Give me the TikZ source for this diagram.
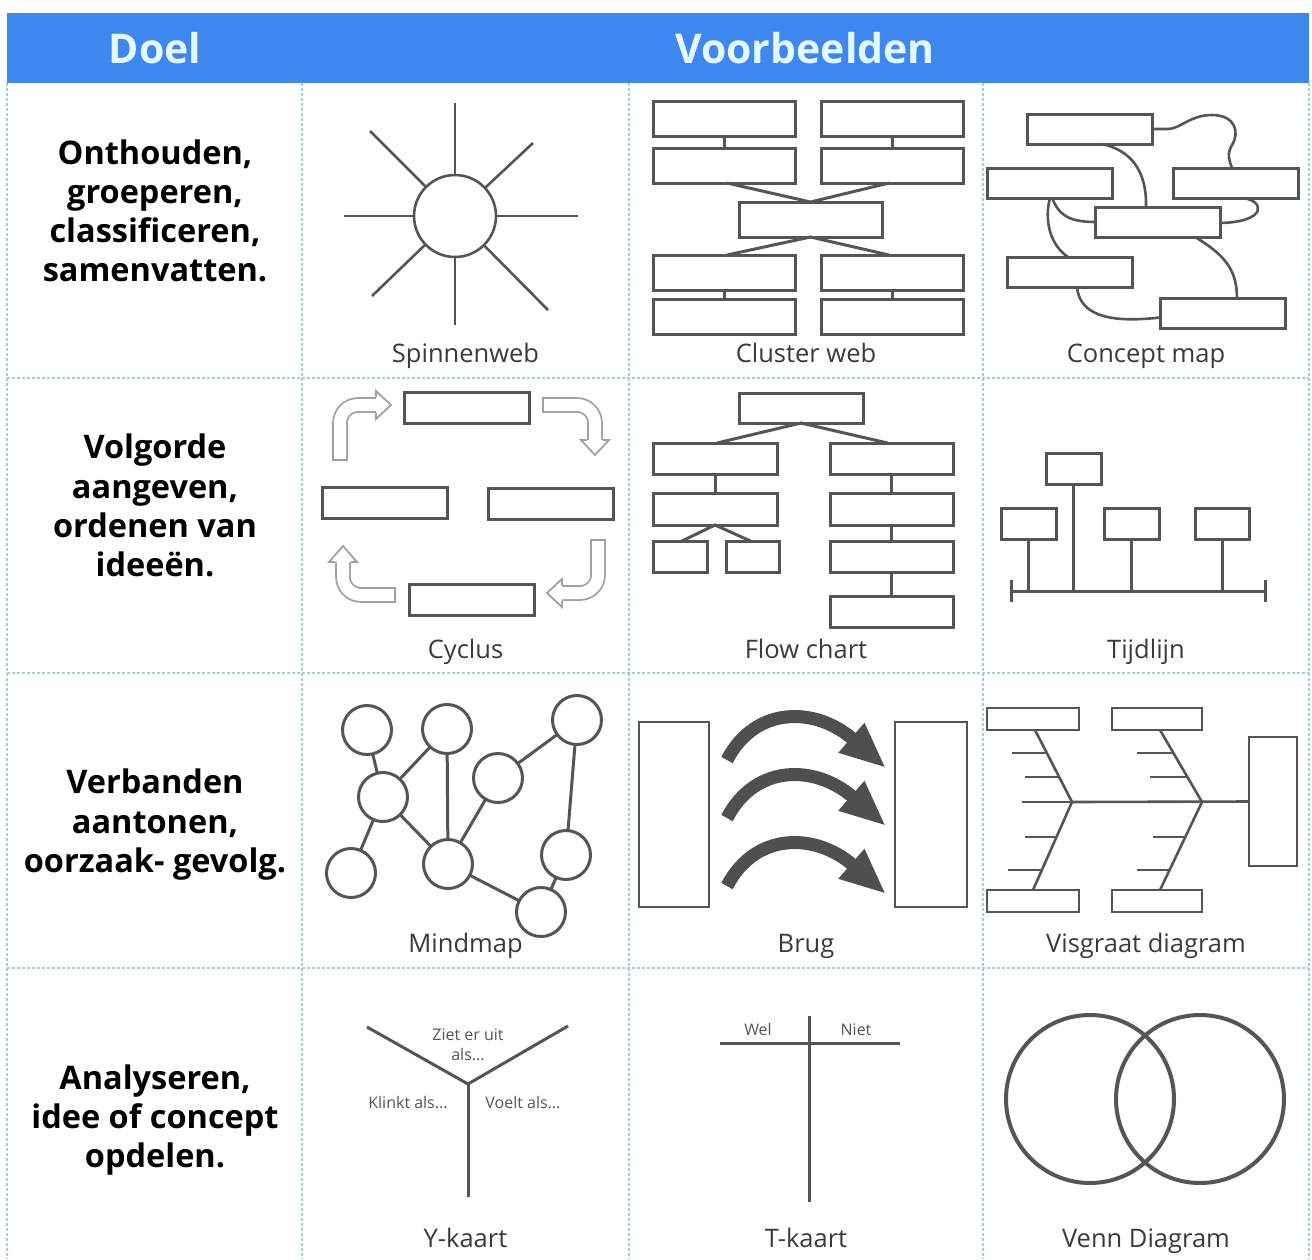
\documentclass[tikz,border=0pt]{standalone}
\usepackage{fontspec}
\setmainfont{Open Sans}
\usetikzlibrary{arrows.meta,calc}
\definecolor{hdrblue}{HTML}{3D87EE}
\definecolor{hdrtext}{HTML}{E3F8FF}
\definecolor{gridblue}{HTML}{9CCFE3}
\definecolor{dg}{HTML}{555555}
\definecolor{lblc}{HTML}{3A3A3A}
\definecolor{arrg}{HTML}{A0A0A0}
\definecolor{brugc}{HTML}{4F4F4F}
\begin{document}
\begin{tikzpicture}[x=1pt,y=-1pt,
  box/.style={draw=dg,line width=3pt,fill=white,rectangle,inner sep=0pt,outer sep=0pt},
  circ/.style={draw=dg,line width=3pt,fill=white,circle,inner sep=0pt,outer sep=0pt},
  ln/.style={draw=dg,line width=3pt},
  cml/.style={draw=dg,line width=2.6pt},
  lbl/.style={font=\fontsize{25.5}{28}\selectfont,text=lblc,anchor=base},
  doel/.style={font=\fontsize{32.5}{39}\selectfont\bfseries,text=black,anchor=base},
  hdr/.style={font=\fontsize{41}{46}\selectfont\bfseries,text=hdrtext,anchor=base},
  small/.style={font=\fontsize{16}{18}\selectfont,text=dg,anchor=base},
  gridl/.style={draw=gridblue,line width=1.1pt,dash pattern=on 3pt off 2pt},
  hollow/.style={draw=arrg,line width=1.8pt,double=white,double distance=12pt,rounded corners=18pt},
  hline/.style={draw=arrg,line width=1.8pt,line join=miter},
  brarrow/.style={draw=brugc,line width=13pt,-{Triangle[length=46pt,width=36pt]}}
]
\useasboundingbox (0,0) rectangle (1312,1259);
\fill[white] (0,0) rectangle (1312,1259);

% header
\fill[hdrblue] (7,13) rectangle (1309,83);
\node[hdr] (hdoel) at (155,63) {Doel};
\node[hdr] (hvoor) at (805,63) {Voorbeelden};

% grid
\foreach \xx in {7,302,629,983,1309} \draw[gridl] (\xx,83) -- (\xx,1259);
\foreach \yy in {378,673,968} \draw[gridl] (7,\yy) -- (1309,\yy);

% left column
\node[doel] (d1a) at (155,164) {Onthouden,};
\node[doel] (d1b) at (155,203) {groeperen,};
\node[doel] (d1c) at (155,242) {classificeren,};
\node[doel] (d1d) at (155,281) {samenvatten.};
\node[doel] (d2a) at (155,458) {Volgorde};
\node[doel] (d2b) at (155,498) {aangeven,};
\node[doel] (d2c) at (155,537) {ordenen van};
\node[doel] (d2d) at (155,576) {ideeën.};
\node[doel] (d3a) at (155,793) {Verbanden};
\node[doel] (d3b) at (155,833) {aantonen,};
\node[doel] (d3c) at (155,872) {oorzaak- gevolg.};
\node[doel] (d4a) at (155,1089) {Analyseren,};
\node[doel] (d4b) at (155,1128) {idee of concept};
\node[doel] (d4c) at (155,1167) {opdelen.};

% labels
\node[lbl] (l11) at (465.5,362) {Spinnenweb};
\node[lbl] (l12) at (806,362) {Cluster web};
\node[lbl] (l13) at (1146,362) {Concept map};
\node[lbl] (l21) at (465.5,658) {Cyclus};
\node[lbl] (l22) at (806,658) {Flow chart};
\node[lbl] (l23) at (1146,658) {Tijdlijn};
\node[lbl] (l31) at (465.5,952) {Mindmap};
\node[lbl] (l32) at (806,952) {Brug};
\node[lbl] (l33) at (1146,952) {Visgraat diagram};
\node[lbl] (l41) at (465.5,1247) {Y-kaart};
\node[lbl] (l42) at (806,1247) {T-kaart};
\node[lbl] (l43) at (1146,1247) {Venn Diagram};

% Spinnenweb
\node[circ,minimum size=82pt,line width=2.6pt] (sw) at (455,216) {};
\coordinate (swN) at (455,103);
\coordinate (swS) at (455,325);
\coordinate (swW) at (344,216);
\coordinate (swE) at (578,216);
\coordinate (swNW) at (370,131);
\coordinate (swNE) at (533,143);
\coordinate (swSW) at (372,296);
\coordinate (swSE) at (548,310);
\foreach \c in {swN,swS,swW,swE,swNW,swNE,swSW,swSE} \draw[ln,line width=2.6pt] (sw) -- (\c);

% Cluster web
\begin{scope}[every node/.style={box,minimum width=142pt,minimum height=35pt}]
\node (cw1) at (724,118.5) {};
\node (cw2) at (892,118.5) {};
\node (cw3) at (724,165.5) {};
\node (cw4) at (892,165.5) {};
\node[minimum width=143pt] (cw5) at (810.5,219.5) {};
\node (cw6) at (724,272.5) {};
\node (cw7) at (892,272.5) {};
\node (cw8) at (724,316.5) {};
\node (cw9) at (892,316.5) {};
\end{scope}
\draw[ln] (cw1.south) -- (cw3.north);
\draw[ln] (cw2.south) -- (cw4.north);
\draw[ln] (cw6.south) -- (cw8.north);
\draw[ln] (cw7.south) -- (cw9.north);
\draw[ln] ($(cw3.south)+(3,0)$) -- (cw5.north) -- ($(cw4.south)+(-3,0)$);
\draw[ln] ($(cw6.north)+(3,0)$) -- (cw5.south) -- ($(cw7.north)+(-3,0)$);

% Concept map
\begin{scope}[every node/.style={box,minimum width=125pt,minimum height=30pt}]
\node (cm1) at (1089.5,129) {};
\node (cm2) at (1049.5,183) {};
\node (cm3) at (1235.5,183) {};
\node (cm4) at (1157.5,222) {};
\node (cm5) at (1069.5,272) {};
\node (cm6) at (1222.5,313.5) {};
\end{scope}
\draw[cml] (cm1.east) -- (1168,129) .. controls (1180,129) and (1190,115) .. (1212,115) .. controls (1235,115) and (1240,132) .. (1232,145) .. controls (1226,155) and (1230,162) .. ($(cm3.north west)+(59,0)$);
\draw[cml] ($(cm1.south west)+(75,0)$) .. controls (1130,150) and (1147,170) .. ($(cm4.north west)+(51,0)$);
\draw[cml] ($(cm2.south west)+(65,0)$) .. controls (1058,212) and (1065,222) .. (cm4.west);
\draw[cml] ($(cm2.south west)+(63,0)$) .. controls (1044,220) and (1050,245) .. ($(cm5.north west)+(61,0)$);
\draw[cml] ($(cm3.south west)+(69,0)$) .. controls (1265,200) and (1268,222) .. ($(cm4.east)+(0,1)$);
\draw[cml] ($(cm4.south west)+(100,0)$) .. controls (1225,255) and (1237,270) .. ($(cm6.north west)+(77,0)$);
\draw[cml] ($(cm5.south west)+(70,0)$) .. controls (1080,320) and (1120,322) .. ($(cm6.west)+(0,4)$);

% Cyclus
\begin{scope}[every node/.style={box,minimum width=125pt,minimum height=31pt}]
\node (cy1) at (466.5,407.5) {};
\node (cy2) at (384.5,502.5) {};
\node (cy3) at (550.5,504) {};
\node (cy4) at (471.5,599.5) {};
\end{scope}
% arrow top-left
\draw[hollow] (340,461) -- (340,405) -- (377,405);
\fill[white] (376,391) -- (391,405) -- (376,419) -- cycle;
\draw[hline] (376,397.2) -- (376,391) -- (391,405) -- (376,419) -- (376,412.8);
\draw[hline] (332.2,460.1) -- (347.8,460.1);
% arrow top-right
\draw[hollow] (542,405) -- (595,405) -- (595,441);
\fill[white] (581,440) -- (595,455) -- (609,440) -- cycle;
\draw[hline] (587.2,440) -- (581,440) -- (595,455) -- (609,440) -- (602.8,440);
\draw[hline] (542.9,397.2) -- (542.9,412.8);
% arrow bottom-right
\draw[hollow] (598,539) -- (598,593) -- (561,593);
\fill[white] (562,579) -- (547,593) -- (562,607) -- cycle;
\draw[hline] (562,585.2) -- (562,579) -- (547,593) -- (562,607) -- (562,600.8);
\draw[hline] (590.2,539.9) -- (605.8,539.9);
% arrow bottom-left
\draw[hollow] (396,595) -- (343,595) -- (343,561);
\fill[white] (329,562) -- (343,546) -- (357,562) -- cycle;
\draw[hline] (335.2,562) -- (329,562) -- (343,546) -- (357,562) -- (350.8,562);
\draw[hline] (395.1,587.2) -- (395.1,602.8);

% Flow chart
\begin{scope}[every node/.style={box,minimum width=124pt,minimum height=31pt}]
\node[minimum height=30pt] (fc0) at (801,408) {};
\node (fc1) at (715,458.5) {};
\node[minimum width=123pt] (fc2) at (891.5,458.5) {};
\node[minimum height=32pt] (fc3) at (715,509) {};
\node[minimum width=123pt,minimum height=32pt] (fc4) at (891.5,509) {};
\node[minimum width=54pt] (fc5) at (680,556.5) {};
\node[minimum width=53pt] (fc6) at (752.5,556.5) {};
\node[minimum width=123pt] (fc7) at (891.5,556.5) {};
\node[minimum width=123pt] (fc8) at (891.5,611.5) {};
\end{scope}
\draw[ln] ($(fc1.north)+(2,0)$) -- (fc0.south) -- ($(fc2.north)+(-4,0)$);
\draw[ln] (fc1.south) -- (fc3.north);
\draw[ln] ($(fc5.north)+(2,0)$) -- (fc3.south) -- ($(fc6.north)+(-2,0)$);
\draw[ln] (fc2.south) -- (fc4.north);
\draw[ln] (fc4.south) -- (fc7.north);
\draw[ln] (fc7.south) -- (fc8.north);

% Tijdlijn
\begin{scope}[every node/.style={box,minimum width=55pt,minimum height=31pt}]
\node (tl0) at (1073.5,468.5) {};
\node (tl1) at (1028.5,524) {};
\node (tl2) at (1131.5,524) {};
\node[minimum width=54pt] (tl3) at (1222,524) {};
\end{scope}
\coordinate (ax1) at (1011,591);
\coordinate (ax2) at (1265,591);
\draw[ln] (ax1) -- (ax2);
\draw[ln] ($(ax1)+(0,-11)$) -- ($(ax1)+(0,11)$);
\draw[ln] ($(ax2)+(0,-11)$) -- ($(ax2)+(0,11)$);
\foreach \t in {tl0,tl1,tl2,tl3} \draw[ln] (\t.south) -- (\t.south |- ax1);

% Mindmap
\begin{scope}[every node/.style={circ,minimum size=49pt}]
\node (mm1) at (367,730) {};
\node (mm2) at (447,729) {};
\node (mm3) at (577,720) {};
\node (mm4) at (383,797) {};
\node (mm5) at (498,778) {};
\node (mm6) at (351,873) {};
\node (mm7) at (448,864) {};
\node (mm8) at (566,855) {};
\node (mm9) at (541,912) {};
\end{scope}
\draw[ln] (mm1) -- (mm4);
\draw[ln] (mm2) -- (mm4);
\draw[ln] (mm4) -- (mm6);
\draw[ln] (mm4) -- (mm7);
\draw[ln] (mm2) -- (mm7);
\draw[ln] (mm5) -- (mm7);
\draw[ln] (mm5) -- (mm3);
\draw[ln] (mm3) -- (mm8);
\draw[ln] (mm8) -- (mm9);
\draw[ln] (mm7) -- (mm9);

% Brug
\node[box,line width=2.6pt,minimum width=70pt,minimum height=185pt] (br1) at (674,814.5) {};
\node[box,line width=2.6pt,minimum width=72pt,minimum height=185pt] (br2) at (931,814.5) {};
\coordinate (ba1) at (727,760);
\coordinate (bb1) at (886,768);
\coordinate (ba2) at (727,818);
\coordinate (bb2) at (886,826);
\coordinate (ba3) at (727,886);
\coordinate (bb3) at (886,894);
\draw[brarrow] (ba1) .. controls (755,706) and (815,706) .. (bb1);
\draw[brarrow] (ba2) .. controls (755,764) and (815,764) .. (bb2);
\draw[brarrow] (ba3) .. controls (755,832) and (815,832) .. (bb3);

% Visgraat
\begin{scope}[every node/.style={box,line width=2.6pt,minimum width=92pt,minimum height=22pt}]
\node (vg1) at (1033,719) {};
\node[minimum width=90pt] (vg2) at (1157,719) {};
\node (vg3) at (1033,901) {};
\node[minimum width=90pt] (vg4) at (1157,901) {};
\node[minimum width=48pt,minimum height=129pt] (vg5) at (1273,801.5) {};
\end{scope}
\coordinate (j1) at (1072,802);
\coordinate (j2) at (1202,802);
\draw[ln,line width=2.6pt] (j1) -- (vg5.west);
\draw[ln,line width=2.6pt] ($(vg1.south)+(2,0)$) -- (j1) -- ($(vg3.north)+(0,0)$);
\draw[ln,line width=2.6pt] ($(vg2.south)+(3,0)$) -- (j2) -- ($(vg4.north)+(3,0)$);
\draw[ln,line width=2.6pt] (1012,753) -- (1047,753);
\draw[ln,line width=2.6pt] (1025,777) -- (1059,777);
\draw[ln,line width=2.6pt] (1022,802) -- (j1);
\draw[ln,line width=2.6pt] (1025,837) -- (1056.5,837);
\draw[ln,line width=2.6pt] (1008,870) -- (1042,870);
\draw[ln,line width=2.6pt] (1137,753) -- (1173,753);
\draw[ln,line width=2.6pt] (1150,777) -- (1187,777);
\draw[ln,line width=2.6pt] (1153,837) -- (1185,837);
\draw[ln,line width=2.6pt] (1137,870) -- (1170,870);

% Y-kaart
\coordinate (yj) at (468,1084);
\coordinate (ya) at (367,1027);
\coordinate (yb) at (568,1026);
\coordinate (yc) at (468,1197);
\draw[ln] (ya) -- (yj) -- (yb);
\draw[ln] (yj) -- (yc);
\node[small] (yt1) at (468,1040) {Ziet er uit};
\node[small] (yt2) at (468,1060) {als...};
\node[small] (yt3) at (408,1108) {Klinkt als...};
\node[small] (yt4) at (523,1108) {Voelt als...};

% T-kaart
\coordinate (th1) at (720,1043);
\coordinate (th2) at (900,1043);
\coordinate (tv1) at (809,1016);
\coordinate (tv2) at (809,1202);
\draw[ln] (th1) -- (th2);
\draw[ln] (tv1) -- (tv2);
\node[small] (tw) at (758,1035) {Wel};
\node[small] (tn) at (856,1035) {Niet};

% Venn
\node[circ,fill=none,line width=4pt,minimum size=168pt] (ve1) at (1090,1099) {};
\node[circ,fill=none,line width=4pt,minimum size=168pt] (ve2) at (1200,1099) {};
\end{tikzpicture}
\end{document}
